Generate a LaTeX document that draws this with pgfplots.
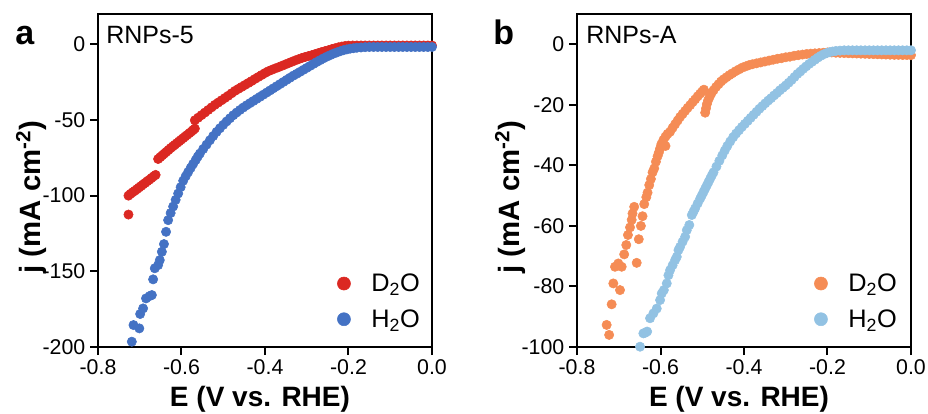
\documentclass[border=0pt]{standalone}
\usepackage{fontspec}
\setmainfont{Liberation Sans}
\usepackage{pgfplots}
\pgfplotsset{compat=1.18}
\definecolor{cRed}{RGB}{219,40,34}
\definecolor{cBlue}{RGB}{68,114,196}
\definecolor{cOrange}{RGB}{245,140,85}
\definecolor{cLight}{RGB}{146,194,227}
\pgfplotsset{
  myax/.style={
    scale only axis, width=250.5pt, height=249.75pt,
    xmin=-0.8, xmax=0,
    axis line style={line width=1.5pt},
    tick align=outside, major tick length=6pt,
    tick style={line width=1.5pt, black},
    xtick pos=left, ytick pos=left,
    xtick={-0.8,-0.6,-0.4,-0.2,0}, xticklabels={-0.8,-0.6,-0.4,-0.2,0.0},
    ticklabel style={font=\fontsize{16}{19}\selectfont},
    xlabel style={font=\bfseries\fontsize{21}{25}\selectfont},
    ylabel style={font=\bfseries\fontsize{22}{26}\selectfont},
    xlabel={E (V vs. RHE)},
    ylabel={j (mA cm\textsuperscript{-2})},
    xlabel style={at={(axis description cs:0.485,-0.158)}, anchor=center},
    ylabel style={at={(axis description cs:-0.2,0.45)}, anchor=center},
    legend image code/.code={\draw[#1, mark size=4.9pt] plot coordinates {(0pt,0pt)};
      \path[draw=none, fill=none] (-5pt,0pt) rectangle (18.5pt,0.1pt);},
    legend cell align=left,
    legend style={draw=none, fill=none, inner sep=0pt, column sep=0pt, row sep=8pt,
      nodes={inner sep=2pt}, font=\fontsize{19}{22}\selectfont,
      at={(rel axis cs:0.844,0.137)}, anchor=center},
    every axis plot/.append style={only marks, mark=*, mark size=3.5pt},
  }
}
\begin{document}
\begin{tikzpicture}
\useasboundingbox (0,0) rectangle (696pt,310.5pt);
% ---------------- panel a
\begin{axis}[myax, at={(73.5pt,50.25pt)}, anchor=south west,
  ymin=-200, ymax=20, ytick={-200,-150,-100,-50,0}, yticklabels={-200,-150,-100,-50,0}]
\addplot[cRed] coordinates {
(-0.727,-112.5)
(-0.727,-100.0) (-0.722,-98.8) (-0.717,-97.8) (-0.712,-96.8) (-0.707,-95.8) (-0.702,-94.7)
(-0.697,-93.7) (-0.692,-92.6) (-0.687,-91.6) (-0.682,-90.5) (-0.677,-89.5) (-0.672,-88.4)
(-0.667,-87.3) (-0.662,-86.3)
(-0.656,-75.8) (-0.651,-74.6) (-0.646,-73.4) (-0.641,-72.2) (-0.636,-71.0) (-0.631,-69.8)
(-0.626,-68.6) (-0.621,-67.5) (-0.616,-66.4) (-0.611,-65.3) (-0.606,-64.2) (-0.601,-63.1)
(-0.596,-62.0) (-0.591,-60.9) (-0.586,-59.8) (-0.581,-58.7) (-0.576,-57.6) (-0.572,-56.6)
(-0.568,-55.7)
(-0.568,-50.2) (-0.560,-48.5) (-0.552,-46.8) (-0.544,-45.1) (-0.536,-43.4) (-0.528,-41.7)
(-0.520,-40.0) (-0.512,-38.5) (-0.504,-37.0) (-0.496,-35.5) (-0.488,-34.0) (-0.480,-32.4)
(-0.472,-30.8) (-0.464,-29.5) (-0.456,-28.2) (-0.448,-26.9) (-0.440,-25.6) (-0.432,-24.3)
(-0.424,-22.9) (-0.416,-21.6) (-0.408,-20.3) (-0.400,-19.0) (-0.392,-17.8) (-0.384,-16.9)
(-0.376,-16.0) (-0.368,-15.2) (-0.360,-14.3) (-0.352,-13.4) (-0.344,-12.5) (-0.336,-11.6)
(-0.328,-10.7) (-0.320,-9.9) (-0.312,-9.1) (-0.304,-8.4) (-0.296,-7.8) (-0.288,-7.2)
(-0.280,-6.5) (-0.272,-5.8) (-0.264,-5.1) (-0.256,-4.5) (-0.248,-3.9) (-0.240,-3.2)
(-0.232,-2.6) (-0.224,-2.0) (-0.216,-1.5) (-0.208,-1.1) (-0.200,-0.9) (-0.190,-0.8)
(-0.180,-0.8) (-0.170,-0.8) (-0.160,-0.8) (-0.150,-0.8) (-0.140,-0.8) (-0.130,-0.8)
(-0.120,-0.8) (-0.110,-0.8) (-0.100,-0.8) (-0.090,-0.8) (-0.080,-0.8) (-0.070,-0.8)
(-0.060,-0.8) (-0.050,-0.8) (-0.040,-0.8) (-0.030,-0.8) (-0.020,-0.8) (-0.010,-0.8) (0.000,-0.8)
};
\addlegendentry{D\textsubscript{2}O}
\addplot[cBlue] coordinates {
(-0.719,-196.5) (-0.715,-185.5) (-0.701,-187.7) (-0.699,-178.2) (-0.692,-174.5) (-0.685,-167.9)
(-0.676,-166.3) (-0.671,-165.7) (-0.668,-155.3) (-0.664,-148.0) (-0.656,-145.9) (-0.652,-142.6)
(-0.647,-137.1) (-0.642,-132.0) (-0.637,-123.9) (-0.632,-116.2)
(-0.626,-111.5) (-0.620,-107.2) (-0.614,-102.8) (-0.608,-98.6) (-0.602,-94.4) (-0.596,-90.2)
(-0.590,-87.2) (-0.584,-84.4) (-0.578,-81.7) (-0.572,-79.0) (-0.566,-76.5) (-0.561,-74.2)
(-0.556,-72.2) (-0.548,-69.2) (-0.540,-66.3) (-0.532,-63.4) (-0.524,-60.6) (-0.516,-57.9)
(-0.508,-55.5) (-0.500,-53.2) (-0.492,-51.0) (-0.484,-48.9) (-0.476,-46.9) (-0.468,-45.1)
(-0.460,-43.4) (-0.452,-41.8) (-0.444,-40.3) (-0.436,-38.9) (-0.428,-37.5) (-0.420,-36.1)
(-0.412,-34.7) (-0.404,-33.3) (-0.396,-31.9) (-0.388,-30.5) (-0.380,-29.1) (-0.372,-27.7)
(-0.364,-26.3) (-0.356,-24.9) (-0.348,-23.5) (-0.340,-22.1) (-0.332,-20.7) (-0.324,-19.5)
(-0.316,-18.2) (-0.308,-16.9) (-0.300,-15.6) (-0.292,-14.3) (-0.284,-13.0) (-0.276,-11.7)
(-0.268,-10.5) (-0.260,-9.3) (-0.252,-8.2) (-0.244,-7.2) (-0.236,-6.2) (-0.228,-5.4)
(-0.220,-4.6) (-0.212,-3.9) (-0.204,-3.4) (-0.196,-2.9) (-0.188,-2.6) (-0.180,-2.3)
(-0.170,-2.1) (-0.160,-1.9) (-0.150,-1.8) (-0.140,-1.8) (-0.130,-1.8) (-0.120,-1.8)
(-0.110,-1.8) (-0.100,-1.8) (-0.090,-1.8) (-0.080,-1.8) (-0.070,-1.8) (-0.060,-1.8)
(-0.050,-1.8) (-0.040,-1.8) (-0.030,-1.8) (-0.020,-1.8) (-0.010,-1.8) (0.000,-1.8)
};
\addlegendentry{H\textsubscript{2}O}
\node[anchor=base west, inner sep=0pt, font=\fontsize{18.75}{22}\selectfont] at (rel axis cs:0.024,0.91) {RNPs-5};
\end{axis}
% ---------------- panel b
\begin{axis}[myax, at={(432.75pt,50.25pt)}, anchor=south west,
  ymin=-100, ymax=10, ytick={-100,-80,-60,-40,-20,0}, yticklabels={-100,-80,-60,-40,-20,0},
  legend style={at={(rel axis cs:0.838,0.137)}}]
\addplot[cOrange] coordinates {
(-0.729,-92.7) (-0.723,-96.0) (-0.717,-85.9) (-0.713,-79.0) (-0.697,-81.2) (-0.709,-73.5)
(-0.701,-72.4) (-0.693,-73.5) (-0.687,-69.4) (-0.682,-66.3) (-0.678,-63.0) (-0.673,-60.5)
(-0.669,-58.0) (-0.667,-55.9) (-0.663,-53.7) (-0.657,-72.2) (-0.652,-64.4) (-0.647,-60.0)
(-0.643,-56.8) (-0.639,-52.8) (-0.634,-50.5) (-0.631,-49.0) (-0.627,-46.5) (-0.623,-44.5)
(-0.619,-42.3) (-0.615,-41.0) (-0.611,-38.8) (-0.607,-37.0) (-0.604,-35.8) (-0.601,-34.4)
(-0.588,-33.6)
(-0.598,-33.0) (-0.593,-31.6) (-0.588,-30.5) (-0.583,-29.6) (-0.577,-28.9) (-0.571,-27.6)
(-0.565,-26.4) (-0.559,-25.2) (-0.553,-24.0) (-0.547,-23.0) (-0.541,-22.0) (-0.535,-21.0)
(-0.529,-20.1) (-0.523,-19.1) (-0.517,-18.2) (-0.511,-17.2) (-0.505,-16.3) (-0.500,-15.6)
(-0.496,-15.0)
(-0.493,-22.6) (-0.491,-21.2) (-0.489,-19.8) (-0.486,-18.5) (-0.482,-17.3) (-0.478,-16.2)
(-0.473,-15.2) (-0.467,-14.1) (-0.461,-13.2) (-0.455,-12.3) (-0.449,-11.6) (-0.442,-10.9)
(-0.435,-10.2) (-0.428,-9.6) (-0.420,-8.9) (-0.412,-8.3) (-0.404,-7.7) (-0.396,-7.3)
(-0.388,-6.9) (-0.380,-6.6) (-0.370,-6.3) (-0.360,-6.0) (-0.350,-5.7) (-0.340,-5.4)
(-0.330,-5.1) (-0.320,-4.8) (-0.310,-4.6) (-0.300,-4.3) (-0.290,-4.1) (-0.280,-3.8)
(-0.270,-3.6) (-0.260,-3.4) (-0.250,-3.2) (-0.240,-3.1) (-0.230,-3.0) (-0.220,-2.9)
(-0.210,-2.8) (-0.200,-2.7) (-0.190,-2.7) (-0.180,-2.8) (-0.170,-2.85) (-0.160,-2.9)
(-0.150,-2.95) (-0.140,-3.0) (-0.130,-3.05) (-0.120,-3.1) (-0.110,-3.15) (-0.100,-3.2)
(-0.090,-3.25) (-0.080,-3.3) (-0.070,-3.35) (-0.060,-3.4) (-0.050,-3.45) (-0.040,-3.5)
(-0.030,-3.5) (-0.020,-3.55) (-0.010,-3.55) (0.000,-3.6)
};
\addlegendentry{D\textsubscript{2}O}
\addplot[cLight] coordinates {
(-0.649,-99.9) (-0.641,-95.5) (-0.637,-95.3) (-0.632,-94.9) (-0.625,-90.5) (-0.617,-88.9)
(-0.609,-87.3) (-0.601,-84.5) (-0.597,-82.3) (-0.592,-81.2) (-0.585,-79.0) (-0.581,-76.3)
(-0.577,-74.6) (-0.571,-73.0) (-0.565,-71.3) (-0.561,-70.2) (-0.557,-68.0) (-0.553,-66.9)
(-0.547,-65.2) (-0.541,-63.6) (-0.537,-61.4) (-0.531,-59.7) (-0.525,-56.4) (-0.521,-55.3)
(-0.517,-54.2) (-0.511,-52.6) (-0.505,-51.0) (-0.501,-49.9) (-0.497,-48.8) (-0.493,-47.7)
(-0.489,-46.6) (-0.485,-45.5) (-0.481,-44.4) (-0.477,-43.3) (-0.473,-42.3) (-0.466,-40.4)
(-0.459,-38.5) (-0.452,-36.7) (-0.446,-35.1) (-0.440,-33.6) (-0.433,-32.1) (-0.426,-30.7)
(-0.419,-29.5) (-0.412,-28.4) (-0.405,-27.3) (-0.398,-26.3)
(-0.391,-25.3) (-0.384,-24.3) (-0.377,-23.3) (-0.370,-22.3) (-0.363,-21.3) (-0.356,-20.4)
(-0.349,-19.5) (-0.342,-18.6) (-0.335,-17.8) (-0.328,-16.9) (-0.321,-16.1) (-0.314,-15.2)
(-0.307,-14.4) (-0.300,-13.6) (-0.293,-12.7) (-0.286,-11.8) (-0.279,-10.8) (-0.272,-9.8)
(-0.265,-9.0) (-0.258,-8.1) (-0.251,-7.3) (-0.244,-6.5) (-0.237,-5.8) (-0.230,-5.1)
(-0.223,-4.4) (-0.216,-3.8) (-0.209,-3.3) (-0.202,-2.9) (-0.195,-2.6) (-0.188,-2.4)
(-0.180,-2.2) (-0.170,-2.1) (-0.160,-2.0) (-0.150,-2.0) (-0.140,-2.0) (-0.130,-2.0)
(-0.120,-2.0) (-0.110,-2.0) (-0.100,-2.0) (-0.090,-2.0) (-0.080,-2.0) (-0.070,-2.0)
(-0.060,-2.0) (-0.050,-2.0) (-0.040,-2.0) (-0.030,-2.0) (-0.020,-2.0) (-0.010,-2.0) (0.000,-2.0)
};
\addlegendentry{H\textsubscript{2}O}
\node[anchor=base west, inner sep=0pt, font=\fontsize{18.75}{22}\selectfont] at (rel axis cs:0.027,0.91) {RNPs-A};
\end{axis}
\node[anchor=base west, inner sep=0pt, font=\bfseries\fontsize{25.5}{30}\selectfont] at (11.25pt,276.75pt) {a};
\node[anchor=base west, inner sep=0pt, font=\bfseries\fontsize{25.5}{30}\selectfont] at (369.75pt,276.75pt) {b};
\end{tikzpicture}
\end{document}
